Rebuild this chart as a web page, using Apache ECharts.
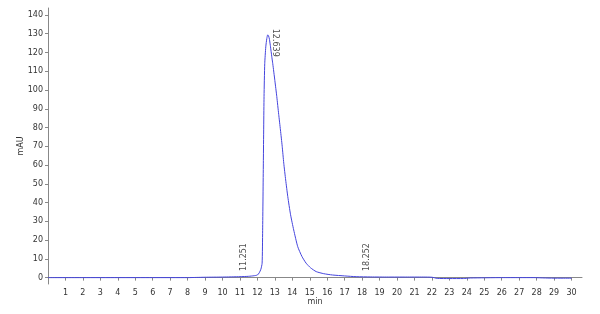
<!DOCTYPE html>
<html>
<head>
<meta charset="utf-8">
<script src="https://cdn.jsdelivr.net/npm/echarts@6/dist/echarts.min.js"></script>
<style>html,body{margin:0;padding:0;background:#fff}#c{width:600px;height:314px}</style>
</head>
<body>
<div id="c"></div>
<script>
const times = [0, 2, 4, 6, 8, 8.5, 9, 10, 11, 11.5, 11.8, 12.0, 12.1, 12.2, 12.27, 12.3, 12.34, 12.38, 12.42, 12.48, 12.54, 12.59, 12.64, 12.69, 12.75, 12.82, 12.88, 13.0, 13.11, 13.22, 13.32, 13.42, 13.51, 13.62, 13.74, 13.9, 14.08, 14.31, 14.55, 14.79, 15.05, 15.37, 15.8, 16.3, 17.0, 17.66, 18.5, 19.5, 20.5, 21.5, 22.0, 22.3, 23, 23.8, 24.2, 25, 26, 27, 27.8, 28.5, 29.2, 30];
const mAU = [0, 0, 0, 0, 0, 0.1, 0.2, 0.3, 0.5, 0.7, 1.0, 1.4, 2.5, 4.5, 7.7, 25, 61, 96.5, 114, 123, 127.5, 129.4, 128.8, 127, 123, 118, 114, 105, 96.5, 87, 78.7, 70, 61, 52, 43.2, 33.5, 25.4, 16.5, 11.3, 7.7, 5.2, 3.2, 2.1, 1.4, 0.9, 0.5, 0.35, 0.3, 0.3, 0.3, 0.2, -0.4, -0.5, -0.5, -0.2, -0.1, 0, 0, 0, -0.2, -0.3, -0.3];
const peakTimes = [11.251, 12.639, 18.252];
const peakLabelY = [3.5, 130.5, 3.5];
const peakRotate = [90, -90, 90];
const xTicks = [1,2,3,4,5,6,7,8,9,10,11,12,13,14,15,16,17,18,19,20,21,22,23,24,25,26,27,28,29,30];
const yTicks = [0,10,20,30,40,50,60,70,80,90,100,110,120,130,140];

const font = 'DejaVu Sans';
const chart = echarts.init(document.getElementById('c'), null, {renderer: 'canvas'});
const axisCol = '#888';
chart.setOption({
  animation: false,
  grid: {left: 48, right: 18, top: 8, bottom: 30, containLabel: false},
  xAxis: {
    type: 'value', min: 0, max: 30.6,
    name: 'min', nameLocation: 'middle', nameGap: 14, nameMoveOverlap: false,
    nameTextStyle: {fontFamily: font, fontSize: 8, color: '#333'},
    axisLine: {show: true, lineStyle: {color: axisCol, width: 1}},
    axisTick: {show: true, customValues: xTicks, length: 3, lineStyle: {color: axisCol}},
    axisLabel: {customValues: xTicks, fontFamily: font, fontSize: 8, color: '#333', margin: 5},
    splitLine: {show: false}
  },
  yAxis: {
    type: 'value', min: -3.4, max: 143.7,
    name: 'mAU', nameLocation: 'middle', nameGap: 23, nameRotate: 90, nameMoveOverlap: false,
    nameTextStyle: {fontFamily: font, fontSize: 8, color: '#333'},
    axisLine: {show: true, lineStyle: {color: axisCol, width: 1}},
    axisTick: {show: true, customValues: yTicks, length: 3, lineStyle: {color: axisCol}},
    axisLabel: {customValues: yTicks, fontFamily: font, fontSize: 8, color: '#333', margin: 5},
    splitLine: {show: false}
  },
  series: [
    {
      type: 'line',
      data: times.map((t, i) => [t, mAU[i]]),
      showSymbol: false, smooth: 0.2,
      lineStyle: {color: '#4444dd', width: 1},
      z: 3
    },
    {
      type: 'scatter',
      symbolSize: 0,
      data: peakTimes.map((t, i) => ({
        value: [t, peakLabelY[i]],
        label: {
          show: true, formatter: String(t), rotate: peakRotate[i],
          position: 'inside',
          offset: i === 1 ? [-4, -7] : [0, 0],
          align: 'left', verticalAlign: 'middle',
          fontFamily: font, fontSize: 8, color: '#222'
        }
      })),
      z: 4
    }
  ]
});
</script>
</body>
</html>
